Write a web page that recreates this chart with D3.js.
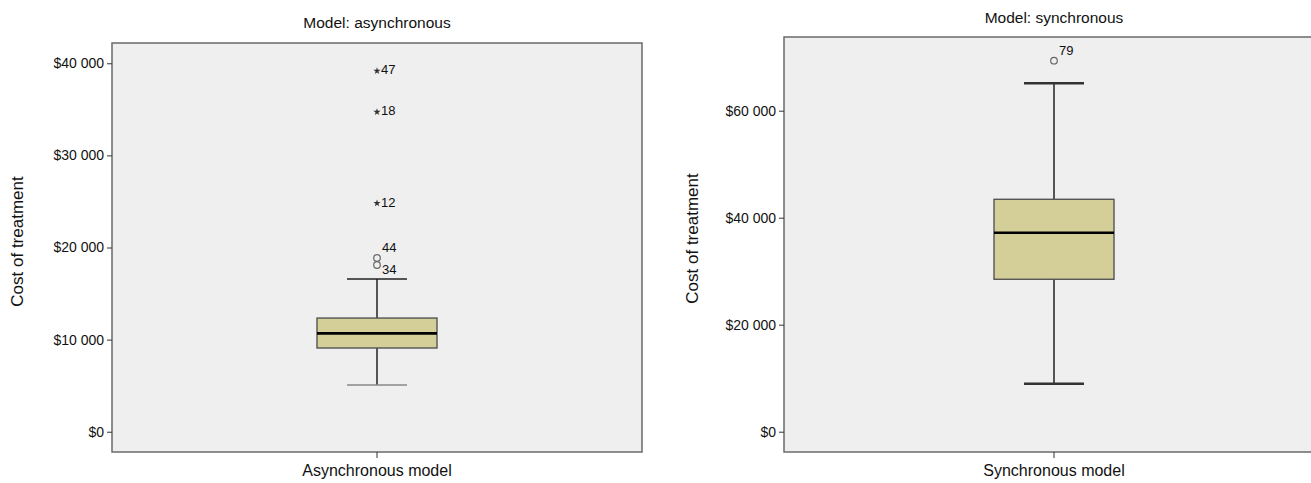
<!DOCTYPE html>
<html>
<head>
<meta charset="utf-8">
<script src="https://cdn.jsdelivr.net/npm/d3@7"></script>
<style>
  html, body { margin: 0; padding: 0; background: #fff; }
  svg { display: block; font-family: "Liberation Sans", Arial, sans-serif; }
</style>
</head>
<body>
<svg id="chart" width="1311" height="483"></svg>
<script>
// Cost of treatment by model — box-plot summaries
const categories   = ["Asynchronous model", "Synchronous model"];
const panelTitles  = ["Model: asynchronous", "Model: synchronous"];
const whiskerLow   = [5070, 8970];
const q1           = [9090, 28490];
const median       = [10680, 37200];
const q3           = [12340, 43440];
const whiskerHigh  = [16580, 65120];

// Outlying cases: value, case number, marker kind
const asyncOutlierValues = [18100, 18860, 24910, 34820, 39270];
const asyncOutlierIds    = [34, 44, 12, 18, 47];
const asyncOutlierKinds  = ["circle", "circle", "star", "star", "star"];
const syncOutlierValues  = [69350];
const syncOutlierIds     = [79];
const syncOutlierKinds   = ["circle"];

const asyncTicks = [0, 10000, 20000, 30000, 40000];
const syncTicks  = [0, 20000, 40000, 60000];
const yTitle = "Cost of treatment";

const svg = d3.select("#chart");
const FONT = "'Liberation Sans', Arial, sans-serif";

const panels = [
  { x0: 112, x1: 642, y0: 43, y1: 452, domain: [-2200, 42200], ticks: asyncTicks,
    outV: asyncOutlierValues, outId: asyncOutlierIds, outK: asyncOutlierKinds,
    titleY: 28, yTitleX: 23, capW: [1.6, 1.4], capCol: ["#222", "#888"] },
  { x0: 784, x1: 1324, y0: 37, y1: 452, domain: [-3794, 73776], ticks: syncTicks,
    outV: syncOutlierValues, outId: syncOutlierIds, outK: syncOutlierKinds,
    titleY: 23, yTitleX: 698, capW: [2.4, 2.4], capCol: ["#333", "#333"] }
];

const money = v => "$" + d3.format(",")(v).replace(/,/g, " ");

panels.forEach((p, i) => {
  const g = svg.append("g");
  const y = d3.scaleLinear().domain(p.domain).range([p.y1, p.y0]);
  const x = d3.scaleBand().domain([categories[i]]).range([p.x0, p.x1]);
  const cx = x(categories[i]) + x.bandwidth() / 2;

  // plot background and frame
  g.append("rect")
    .attr("x", p.x0).attr("y", p.y0)
    .attr("width", p.x1 - p.x0).attr("height", p.y1 - p.y0)
    .attr("fill", "#efefef").attr("stroke", "#6a6a6a").attr("stroke-width", 1.5);

  // y axis
  const yAxis = d3.axisLeft(y).tickValues(p.ticks).tickFormat(money).tickSize(5).tickPadding(3);
  const ya = g.append("g").attr("transform", `translate(${p.x0},0)`).call(yAxis);
  ya.select(".domain").remove();
  ya.selectAll(".tick line").attr("stroke", "#333");
  ya.selectAll(".tick text").attr("font-size", 14).attr("fill", "#111")
    .attr("font-family", FONT);

  // x axis
  const xAxis = d3.axisBottom(x).tickSize(6).tickPadding(7);
  const xa = g.append("g").attr("transform", `translate(0,${p.y1})`).call(xAxis);
  xa.select(".domain").remove();
  xa.selectAll(".tick line").attr("stroke", "#333");
  xa.selectAll(".tick text").attr("font-size", 16).attr("fill", "#111")
    .attr("font-family", FONT);

  // titles
  g.append("text").attr("x", cx).attr("y", p.titleY)
    .attr("text-anchor", "middle").attr("font-size", 15.5).attr("fill", "#111")
    .text(panelTitles[i]);
  g.append("text")
    .attr("transform", `translate(${p.yTitleX},${(p.y0 + p.y1) / 2 - 6}) rotate(-90)`)
    .attr("text-anchor", "middle").attr("font-size", 17).attr("fill", "#111")
    .text(yTitle);

  const boxW = 120, capHalf = 30;

  // whiskers
  g.append("line").attr("x1", cx).attr("x2", cx)
    .attr("y1", y(q3[i])).attr("y2", y(whiskerHigh[i]))
    .attr("stroke", "#222").attr("stroke-width", 1.5);
  g.append("line").attr("x1", cx).attr("x2", cx)
    .attr("y1", y(q1[i])).attr("y2", y(whiskerLow[i]))
    .attr("stroke", "#222").attr("stroke-width", 1.5);
  g.append("line").attr("x1", cx - capHalf).attr("x2", cx + capHalf)
    .attr("y1", y(whiskerHigh[i])).attr("y2", y(whiskerHigh[i]))
    .attr("stroke", p.capCol[0]).attr("stroke-width", p.capW[0]);
  g.append("line").attr("x1", cx - capHalf).attr("x2", cx + capHalf)
    .attr("y1", y(whiskerLow[i])).attr("y2", y(whiskerLow[i]))
    .attr("stroke", p.capCol[1]).attr("stroke-width", p.capW[1]);

  // box
  g.append("rect")
    .attr("x", cx - boxW / 2).attr("y", y(q3[i]))
    .attr("width", boxW).attr("height", y(q1[i]) - y(q3[i]))
    .attr("fill", "#d4cf98").attr("stroke", "#555").attr("stroke-width", 1.4);
  g.append("line").attr("x1", cx - boxW / 2).attr("x2", cx + boxW / 2)
    .attr("y1", y(median[i])).attr("y2", y(median[i]))
    .attr("stroke", "#000").attr("stroke-width", 2.6);

  // outliers
  p.outV.forEach((v, j) => {
    const yy = y(v);
    if (p.outK[j] === "circle") {
      g.append("circle").attr("cx", cx).attr("cy", yy).attr("r", 3.3)
        .attr("fill", "none").attr("stroke", "#666").attr("stroke-width", 1.2);
    } else {
      g.append("path").attr("d", d3.symbol(d3.symbolStar, 16)())
        .attr("transform", `translate(${cx},${yy + 1})`).attr("fill", "#333");
    }
  });
  // case labels
  p.outV.forEach((v, j) => {
    const yy = y(v);
    let lx = cx + 4, ly = yy + 4.5;
    if (p.outK[j] === "circle") {
      // stacked circle labels sit above / below their marker
      const isLower = j === 0 && p.outV.length > 1 && p.outK[1] === "circle";
      lx = cx + 5;
      ly = isLower ? yy + 8.5 : yy - 6;
    }
    g.append("text").attr("x", lx).attr("y", ly)
      .attr("font-size", 13).attr("fill", "#111").text(p.outId[j]);
  });
});
</script>
</body>
</html>
